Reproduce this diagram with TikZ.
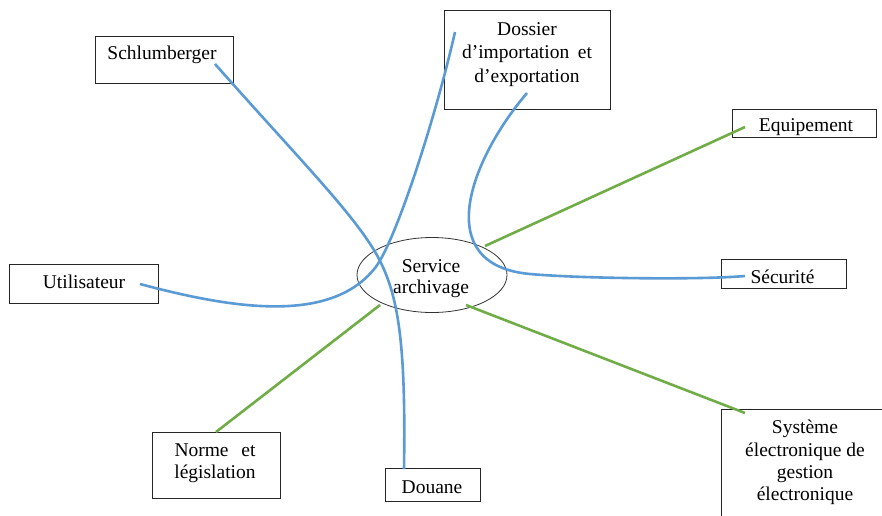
\documentclass[tikz,border=0pt]{standalone}
\usepackage{fontspec}
\setmainfont{Liberation Serif}
\usetikzlibrary{shapes.geometric}
\definecolor{linkblue}{RGB}{91,155,213}
\definecolor{linkgreen}{RGB}{112,173,71}
\begin{document}
\begin{tikzpicture}[x=1pt,y=-1pt,
  box/.style={draw=black!85, line width=0.9pt, inner sep=0pt, anchor=north west},
  hub/.style={draw=black!80, line width=0.8pt, ellipse, inner sep=0pt},
  lbl/.style={inner sep=0pt, anchor=base, font=\fontsize{19.5}{23}\selectfont},
  blueline/.style={draw=linkblue, line width=2.6pt},
  greenline/.style={draw=linkgreen, line width=2.6pt}]
\useasboundingbox[fill=white] (0,0) rectangle (882,515);
\clip (0,0) rectangle (882,515);

% frames
\node[box, minimum width=138pt, minimum height=47pt] (schl) at (95,36) {};
\node[box, minimum width=166pt, minimum height=99pt] (doss) at (444,10) {};
\node[box, minimum width=144pt, minimum height=28pt] (equip) at (732,109) {};
\node[box, minimum width=125pt, minimum height=29pt] (secu) at (721,259) {};
\node[box, minimum width=149pt, minimum height=39pt] (util) at (9,264) {};
\node[box, minimum width=128pt, minimum height=66pt] (norme) at (152,432) {};
\node[box, minimum width=95pt, minimum height=33pt] (douane) at (385,468) {};
\node[box, minimum width=175pt, minimum height=130pt] (syst) at (721,409) {};
\node[hub, minimum width=150pt, minimum height=75pt] (serv) at (432,275) {};

% connector ends
\coordinate (schl-e) at (215,64);
\coordinate (douane-e) at (404,469);
\coordinate (util-e) at (140,284);
\coordinate (doss-a) at (455,32);
\coordinate (doss-b) at (527,93);
\coordinate (secu-e) at (745,276);
\coordinate (equip-e) at (745,127);
\coordinate (serv-ne) at (485,246);
\coordinate (norme-e) at (216,432);
\coordinate (serv-sw) at (380,305);
\coordinate (syst-e) at (745,413);
\coordinate (serv-se) at (466,305);

% green links
\draw[greenline] (equip-e) -- (serv-ne);
\draw[greenline] (norme-e) -- (serv-sw);
\draw[greenline] (syst-e) -- (serv-se);

% blue links
\draw[blueline] (schl-e) .. controls (300,160) and (355,215) .. (378,257)
  .. controls (398,295) and (406,340) .. (douane-e);
\draw[blueline] (util-e) .. controls (230,308) and (330,325) .. (375,268)
  .. controls (395,243) and (435,120) .. (doss-a);
\draw[blueline] (doss-b) .. controls (470,160) and (430,265) .. (530,274)
  .. controls (580,278.5) and (700,280) .. (secu-e);

% texts
\node[lbl] (schl-t) at (162,59) {Schlumberger};
\node[lbl] (doss-t1) at (527,35) {Dossier};
\node[lbl] (doss-t2) at (527,58) {\makebox[130pt][s]{d’importation et}};
\node[lbl] (doss-t3) at (527,82) {d’exportation};
\node[lbl] (equip-t) at (806,131) {Equipement};
\node[lbl] (secu-t) at (782.5,283) {Sécurité};
\node[lbl] (util-t) at (84,288) {Utilisateur};
\node[lbl] (norme-t1) at (215,456) {\makebox[81pt][s]{Norme et}};
\node[lbl] (norme-t2) at (215,478) {législation};
\node[lbl] (douane-t) at (432,493) {Douane};
\node[lbl] (serv-t1) at (431,272) {Service};
\node[lbl] (serv-t2) at (431,293) {archivage};
\node[lbl] (syst-t1) at (805,433) {Système};
\node[lbl] (syst-t2) at (805,456) {électronique de};
\node[lbl] (syst-t3) at (805,478) {gestion};
\node[lbl] (syst-t4) at (805,500) {électronique};
\end{tikzpicture}
\end{document}
